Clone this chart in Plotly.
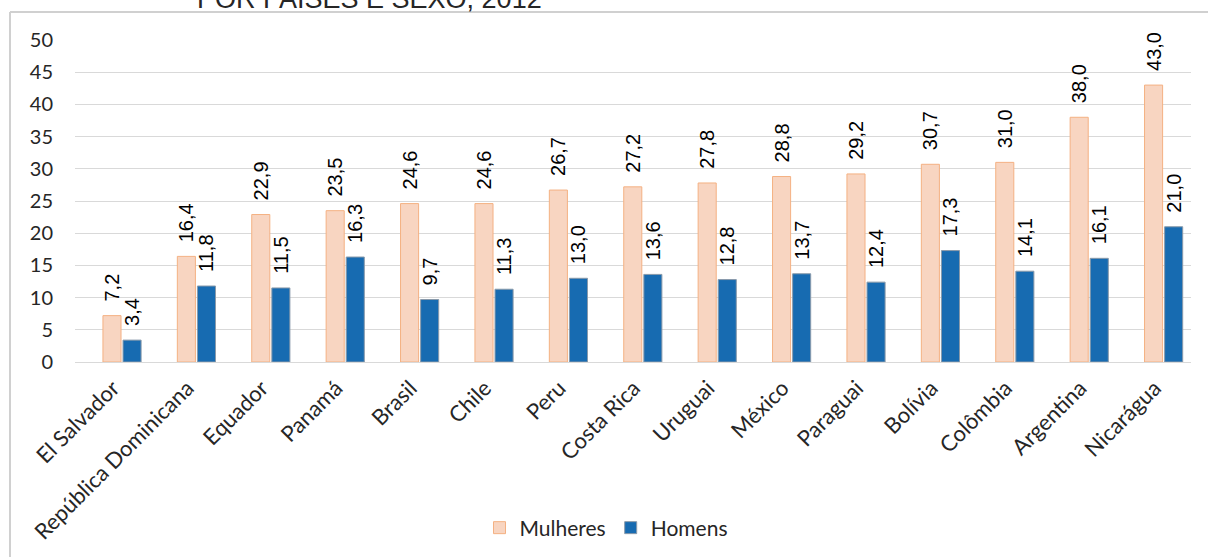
import plotly.graph_objects as go

# Countries and rates by sex (2012)
paises = ["El Salvador", "República Dominicana", "Equador", "Panamá", "Brasil",
          "Chile", "Peru", "Costa Rica", "Uruguai", "México", "Paraguai",
          "Bolívia", "Colômbia", "Argentina", "Nicarágua"]
mulheres = [7.2, 16.4, 22.9, 23.5, 24.6, 24.6, 26.7, 27.2, 27.8, 28.8, 29.2,
            30.7, 31.0, 38.0, 43.0]
homens = [3.4, 11.8, 11.5, 16.3, 9.7, 11.3, 13.0, 13.6, 12.8, 13.7, 12.4,
          17.3, 14.1, 16.1, 21.0]
y_ticks = [0, 5, 10, 15, 20, 25, 30, 35, 40, 45, 50]


def fmt(v):
    # decimal comma, with a little leading space so the label sits clear of the bar
    return "\u00a0\u00a0" + f"{v:.1f}".replace(".", ",")


W, H = 1208, 557
L, R, T, B = 75, 17, 40, 195

label_font = dict(family="Liberation Sans, Arial", size=20, color="#000000")

fig = go.Figure()
fig.add_trace(go.Bar(
    name="Mulheres", x=paises, y=mulheres,
    marker=dict(color="#F8D5C1", line=dict(color="#F4B183", width=1)),
    text=[fmt(v) for v in mulheres], textposition="outside", textangle=-90,
    textfont=label_font, constraintext="none", cliponaxis=False,
))
fig.add_trace(go.Bar(
    name="Homens", x=paises, y=homens,
    marker=dict(color="#176BB1", line=dict(color="#8A9AAA", width=1)),
    text=[fmt(v) for v in homens], textposition="outside", textangle=-90,
    textfont=label_font, constraintext="none", cliponaxis=False,
))

pw = W - L - R
ph = H - T - B

fig.update_layout(
    width=W, height=H, autosize=False,
    margin=dict(l=L, r=R, t=T, b=B, pad=0, autoexpand=False),
    paper_bgcolor="white", plot_bgcolor="white",
    barmode="group", bargap=0.46, bargroupgap=0.1,
    font=dict(family="Lato, Carlito, Calibri, sans-serif", color="#404040"),
    showlegend=True,
    legend=dict(orientation="h", x=(606 - L) / pw, xanchor="center",
                y=(ph - (528 - T)) / ph, yanchor="middle",
                font=dict(size=21, color="#262626"),
                traceorder="normal"),
    xaxis=dict(
        range=[-0.632, 14.368], tickangle=-45, showgrid=False,
        tickfont=dict(size=22, color="#262626"), showline=False, ticks="",
        ticklabelstandoff=8, ticklabelshift=-9,
        automargin=False,
    ),
    yaxis=dict(
        range=[0, 50], tickvals=y_ticks, showgrid=True, gridcolor="#D9D9D9",
        gridwidth=1, zeroline=True, zerolinecolor="#D9D9D9", zerolinewidth=1,
        tickfont=dict(size=20, color="#262626"), ticks="",
        ticklabelstandoff=21, automargin=False,
    ),
    annotations=[dict(
        text="POR PAÍSES E SEXO, 2012", xref="paper", yref="paper",
        x=(369 - L) / pw, y=(ph + T - 16) / ph, xanchor="center",
        yanchor="bottom", showarrow=False,
        font=dict(family="Liberation Sans, Arial", size=27, color="#262626"),
    )],
    shapes=[
        dict(type="line", xref="paper", yref="paper",
             x0=(10 - L) / pw, x1=(W - L) / pw,
             y0=(ph + T - 12) / ph, y1=(ph + T - 12) / ph,
             line=dict(color="#D0D0D0", width=2)),
        dict(type="line", xref="paper", yref="paper",
             x0=(10 - L) / pw, x1=(10 - L) / pw,
             y0=(ph + T - 12) / ph, y1=-B / ph,
             line=dict(color="#D0D0D0", width=2)),
    ],
)

fig.write_html("out.html")
